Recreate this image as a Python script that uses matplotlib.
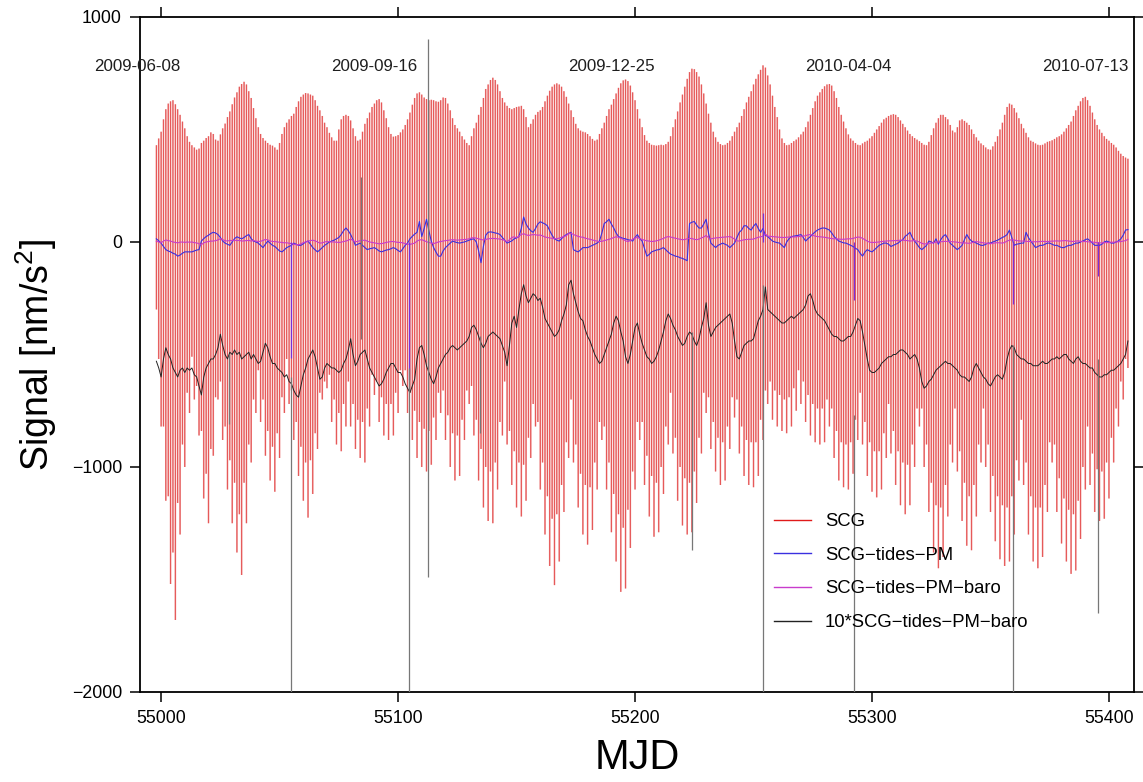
import numpy as np
import matplotlib
matplotlib.use("Agg")
import matplotlib.pyplot as plt
from matplotlib.lines import Line2D

# ---------------------------------------------------------------------------
# Daily series, first day MJD 54998
# ---------------------------------------------------------------------------
mjd_start = 54998

# SCG daily maximum [nm/s^2]
scg_high = [
    430, 460, 490, 545, 590, 615, 625, 630, 612, 590,
    565, 535, 505, 470, 445, 430, 420, 410, 415, 440,
    450, 462, 470, 487, 480, 455, 450, 478, 505, 526,
    555, 580, 612, 642, 665, 690, 702, 712, 700, 670,
    640, 595, 550, 510, 480, 462, 450, 440, 432, 428,
    420, 410, 440, 480, 510, 530, 545, 560, 570, 600,
    625, 645, 655, 662, 660, 655, 650, 630, 605, 585,
    560, 530, 510, 485, 465, 450, 450, 500, 545, 560,
    565, 560, 540, 505, 470, 450, 455, 490, 525, 550,
    575, 600, 615, 630, 635, 620, 585, 550, 510, 480,
    468, 470, 475, 487, 500, 520, 545, 575, 610, 640,
    660, 665, 655, 642, 635, 630, 632, 630, 625, 623,
    630, 642, 640, 615, 585, 550, 520, 505, 490, 470,
    455, 440, 430, 470, 505, 530, 565, 600, 640, 680,
    700, 720, 730, 720, 700, 670, 640, 620, 605, 595,
    590, 595, 600, 602, 605, 590, 555, 510, 525, 545,
    565, 578, 585, 600, 625, 650, 672, 690, 700, 705,
    700, 690, 670, 645, 615, 585, 555, 525, 505, 495,
    490, 487, 480, 470, 458, 450, 455, 480, 505, 530,
    560, 590, 610, 635, 660, 685, 705, 718, 722, 715,
    695, 665, 630, 590, 548, 510, 475, 450, 440, 432,
    430, 428, 430, 432, 430, 435, 445, 470, 510, 545,
    580, 620, 655, 690, 725, 755, 770, 768, 755, 735,
    700, 660, 615, 570, 530, 490, 465, 445, 435, 430,
    432, 440, 450, 470, 490, 510, 530, 560, 590, 620,
    645, 670, 700, 725, 745, 765, 785, 775, 740, 700,
    650, 600, 555, 500, 460, 440, 430, 432, 440, 448,
    455, 465, 478, 490, 510, 535, 565, 595, 625, 650,
    665, 680, 692, 700, 702, 695, 670, 640, 600, 565,
    535, 505, 478, 460, 450, 440, 432, 430, 438, 445,
    450, 460, 470, 485, 500, 515, 530, 545, 552, 560,
    565, 568, 565, 555, 540, 525, 510, 495, 480, 470,
    462, 455, 448, 440, 432, 430, 445, 475, 505, 530,
    550, 565, 565, 555, 545, 520, 495, 487, 510, 540,
    545, 538, 530, 520, 500, 480, 465, 450, 438, 430,
    420, 412, 410, 425, 445, 470, 500, 530, 565, 600,
    615, 610, 595, 575, 550, 525, 505, 485, 465, 450,
    445, 438, 432, 430, 432, 438, 445, 448, 452, 458,
    465, 470, 478, 490, 505, 520, 535, 560, 585, 605,
    625, 640, 645, 630, 605, 575, 545, 520, 500, 485,
    470, 458, 450, 440, 432, 420, 405, 392, 382, 375,
    370,
]

# SCG daily minimum [nm/s^2]
scg_low = [
    -300, -520, -820, -820, -1150, -1130, -1520, -1380, -1680, -1160,
    -1300, -900, -1000, -670, -760, -510, -700, -640, -860, -840,
    -1140, -1030, -1250, -920, -950, -690, -700, -620, -880, -820,
    -1100, -970, -1250, -1070, -1380, -1210, -1480, -1070, -1250, -900,
    -980, -700, -760, -570, -800, -700, -950, -840, -1060, -910,
    -1110, -850, -960, -690, -760, -520, -720, -660, -880, -800,
    -1040, -910, -1150, -980, -1225, -970, -1120, -850, -920, -670,
    -700, -620, -650, -590, -800, -700, -900, -760, -930, -720,
    -820, -620, -820, -720, -920, -790, -960, -800, -980, -740,
    -820, -590, -680, -620, -800, -690, -860, -720, -880, -720,
    -860, -670, -760, -570, -640, -570, -760, -670, -880, -750,
    -960, -800, -1000, -830, -1020, -840, -990, -780, -880, -670,
    -760, -660, -880, -770, -1000, -850, -1060, -860, -1040, -790,
    -880, -660, -720, -640, -860, -790, -1060, -920, -1180, -1000,
    -1240, -1020, -1250, -980, -1100, -800, -860, -620, -900, -840,
    -1080, -930, -1180, -980, -1220, -990, -1150, -870, -960, -720,
    -820, -800, -1100, -980, -1300, -1130, -1440, -1230, -1525, -1210,
    -1420, -1080, -1200, -890, -960, -700, -980, -900, -1180, -1030,
    -1300, -1080, -1345, -1090, -1280, -980, -1100, -800, -880, -820,
    -1100, -980, -1290, -1120, -1420, -1210, -1555, -1270, -1540, -1190,
    -1360, -1020, -1100, -800, -880, -800, -1080, -950, -1220, -1040,
    -1310, -1070, -1290, -1000, -1120, -820, -900, -670, -940, -870,
    -1150, -1000, -1260, -1050, -1300, -1070, -1290, -1020, -1160, -870,
    -940, -670, -760, -690, -920, -800, -1020, -870, -1080, -890,
    -1060, -820, -920, -690, -780, -700, -940, -820, -1040, -880,
    -1080, -890, -1090, -890, -1040, -790, -880, -660, -720, -620,
    -790, -660, -820, -680, -840, -700, -850, -690, -820, -650,
    -750, -570, -720, -620, -800, -680, -860, -720, -890, -740,
    -900, -740, -890, -700, -820, -740, -960, -840, -1060, -890,
    -1090, -900, -1100, -890, -1030, -790, -880, -670, -900, -800,
    -1040, -890, -1110, -930, -1135, -930, -1100, -850, -960, -720,
    -940, -840, -1080, -930, -1170, -980, -1210, -990, -1170, -900,
    -1000, -740, -820, -740, -1000, -900, -1200, -1070, -1380, -1170,
    -1450, -1180, -1400, -1080, -1220, -900, -980, -740, -1020, -930,
    -1240, -1070, -1350, -1130, -1370, -1080, -1220, -900, -980, -740,
    -1000, -900, -1200, -1040, -1330, -1130, -1410, -1170, -1440, -1180,
    -1420, -1130, -1300, -970, -1060, -790, -1080, -980, -1300, -1130,
    -1420, -1180, -1450, -1180, -1400, -1080, -1200, -890, -980, -900,
    -1200, -1050, -1340, -1140, -1420, -1190, -1475, -1210, -1460, -1150,
    -1320, -1000, -1100, -820, -1080, -940, -1200, -1010, -1240, -1020,
    -1230, -980, -1140, -870, -980, -740, -820, -620, -700, -520,
    -560,
]

# SCG - tides - polar motion, daily [nm/s^2]
scg_tides_pm = [
    14, 5, -5, -20, -34, -40, -44, -50, -54, -63,
    -58, -50, -44, -44, -44, -44, -40, -36, -34, 4,
    15, 24, 30, 38, 43, 40, 33, 20, 4, -5,
    -10, -15, 0, 15, 23, 18, 14, 20, 28, 33,
    15, 4, 0, -5, -15, -25, -10, 4, -5, -15,
    -20, -30, -40, -44, -35, -25, -20, -15, -5, -10,
    -15, -15, -8, 0, 4, -10, -25, -35, -44, -35,
    -25, -15, -8, 0, 4, 8, 14, 20, 33, 50,
    62, 50, 33, 10, -15, -10, -5, -15, -25, -34,
    -30, -28, -25, -32, -40, -44, -40, -36, -34, -30,
    -25, -30, -38, -44, -30, -15, -5, 14, 25, 35,
    43, 91, 24, 60, 101, 50, 4, -25, -45, -63,
    -63, -40, -25, -15, -5, 4, 0, -3, -5, -2,
    0, 4, 8, 12, 14, 0, -40, -92, -20, 30,
    43, 45, 43, 40, 38, 33, 20, 8, -5, 0,
    5, 14, 18, 24, 60, 111, 80, 62, 50, 43,
    60, 80, 90, 85, 80, 72, 50, 30, 14, 8,
    4, 15, 25, 33, 38, 43, -34, -40, -44, -35,
    -25, -25, -25, -20, -15, -10, -5, 4, 40, 82,
    90, 101, 80, 62, 40, 24, 20, 16, 14, 10,
    8, 4, 20, 33, 15, 4, -30, -63, -55, -44,
    -40, -36, -34, -30, -25, -35, -45, -54, -58, -63,
    -65, -70, -73, -78, -83, 82, 88, 91, 75, 62,
    62, 80, 101, 40, -5, -15, -25, -15, -10, -5,
    -10, -15, -25, -15, -5, 20, 43, 53, 72, 72,
    60, 53, 70, 82, 60, 43, 60, 30, 24, 14,
    4, 0, -3, -5, -15, -25, 0, 15, 24, 26,
    28, 30, 33, 20, 4, 15, 24, 35, 45, 53,
    58, 62, 62, 58, 53, 40, 24, 14, 4, 0,
    -4, -5, -10, -15, -20, -28, -34, -50, -63, -45,
    -34, -40, -44, -35, -25, -15, -10, -5, -5, -10,
    -20, -15, -10, -5, 4, 10, 25, 33, 43, 20,
    4, -10, -25, -34, -25, -15, 4, 0, -5, 14,
    -10, 10, 25, 33, 15, -5, -15, -25, -34, -25,
    -15, 10, 33, 15, 4, 0, -5, -10, -15, -15,
    -10, -5, -5, 0, 4, 8, 14, 20, 25, 33,
    53, 20, -15, -10, -8, -5, -5, 43, 20, 4,
    -10, -25, -20, -15, -15, -10, -5, -5, -10, -15,
    -15, -20, -25, -25, -20, -15, -15, -10, -5, -5,
    0, 4, 10, 14, 5, -5, -15, -15, -15, -10,
    0, 4, 0, -5, -5, 0, 5, 14, 30, 53,
    55,
]

# SCG - tides - polar motion - barometric effect, daily [nm/s^2]
scg_resid_baro = [
    3, 0, -4, 4, 9, 6, 4, 0, -2, -4,
    -1, 0, -2, 0, -1, 0, -3, -4, -8, -12,
    -4, 0, 2, 4, 4, 6, 9, 15, 10, 6,
    4, 7, 6, 8, 6, 7, 4, 5, 6, 7,
    4, 6, 4, 2, 3, 7, 11, 9, 5, 2,
    2, 0, -1, -2, -4, -3, -6, -7, -10, -12,
    -13, -8, -3, 0, 4, 6, 8, 5, 0, -5,
    -4, 0, 2, 1, 0, 0, -1, -2, -1, 2,
    4, 8, 13, 6, 1, 3, 6, 7, 8, 4,
    0, -2, -4, -6, -8, -7, -5, -2, 0, 2,
    2, 0, -2, -2, -4, -7, -9, -11, -8, -5,
    4, 9, 10, 6, 1, -2, -5, -7, -4, 0,
    2, 4, 6, 7, 9, 10, 9, 8, 9, 10,
    11, 12, 14, 18, 19, 17, 14, 11, 9, 11,
    14, 15, 16, 15, 14, 13, 10, 7, 1, 10,
    20, 23, 18, 26, 33, 37, 32, 29, 31, 33,
    32, 30, 31, 27, 22, 20, 18, 16, 14, 15,
    17, 21, 24, 28, 37, 39, 33, 29, 25, 22,
    21, 17, 14, 12, 9, 6, 4, 2, 3, 6,
    9, 12, 15, 20, 23, 21, 16, 12, 5, 2,
    6, 12, 18, 20, 15, 11, 8, 5, 4, 2,
    3, 5, 8, 12, 16, 21, 24, 22, 19, 17,
    14, 12, 10, 11, 14, 16, 15, 12, 10, 13,
    18, 22, 29, 19, 14, 16, 18, 19, 20, 21,
    22, 23, 24, 20, 12, 5, 4, 7, 10, 11,
    12, 12, 13, 17, 21, 23, 26, 36, 26, 25,
    24, 23, 22, 21, 20, 20, 21, 22, 23, 22,
    23, 24, 25, 26, 28, 32, 33, 30, 26, 24,
    23, 22, 21, 19, 17, 15, 14, 14, 13, 12,
    12, 13, 14, 14, 16, 19, 22, 21, 16, 10,
    4, -1, -2, -2, -1, 0, 2, 3, 4, 5,
    5, 6, 6, 7, 8, 8, 7, 6, 4, 5,
    6, 4, 0, -6, -9, -8, -6, -5, -3, -1,
    0, 1, 2, 3, 2, 2, 1, 0, -1, -3,
    -4, -4, -5, -6, -4, 0, 2, 0, -2, -4,
    -5, -7, -8, -6, -4, -3, -4, -5, -2, 4,
    8, 10, 9, 6, 5, 4, 4, 3, 2, 2,
    1, 1, 1, 2, 3, 2, 2, 3, 4, 4,
    5, 4, 5, 6, 6, 4, 3, 2, 4, 5,
    3, 2, 2, 1, 0, 0, -2, -3, -4, -4,
    -3, -3, -2, -1, -1, 0, 1, 2, 4, 6,
    12,
]

# Short instrumental steps / spikes in the residual [nm/s^2]
spike_mjd = [55028.8, 55054.7, 55084.2, 55104.4, 55112.8, 55134.7,
             55223.9, 55254.0, 55292.3, 55359.3, 55395.3]
spike_resid_lo = [-25, -204, 13, -204, -93, -29, -81, -204, -204, -204, -109]
spike_resid_hi = [6, -4, 85, 0, 146, 14, 16, 37, -21, 10, 4]
spike_pm_mjd = [55054.7, 55104.4, 55254.0, 55292.3, 55359.3, 55395.3]
spike_pm_val = [-517, -614, 130, -256, -276, -150]

# Calendar dates every 100 days
date_mjd = [54990, 55090, 55190, 55290, 55390]
date_text = ["2009-06-08", "2009-09-16", "2009-12-25", "2010-04-04", "2010-07-13"]

residual_scale = 10
residual_shift = -560

# ---------------------------------------------------------------------------
plt.rcParams["font.family"] = ["Liberation Sans", "DejaVu Sans"]
plt.rcParams["mathtext.fontset"] = "custom"
plt.rcParams["mathtext.rm"] = "Liberation Sans"
plt.rcParams["mathtext.it"] = "Liberation Sans:italic"

n = min(len(scg_high), len(scg_low), len(scg_tides_pm), len(scg_resid_baro))
mjd = mjd_start + np.arange(n)
high = np.asarray(scg_high[:n], float)
low = np.asarray(scg_low[:n], float)
pm = np.asarray(scg_tides_pm[:n], float)
resid = np.asarray(scg_resid_baro[:n], float)

fig = plt.figure(figsize=(11.43, 7.82), dpi=100)
ax = fig.add_axes([0.1225, 0.1151, 0.8695, 0.8632])

red = "#e01a1a"
blue = "#3a30e0"
magenta = "#c83ccc"
dark = "#222222"

# SCG: one stroke per day from daily minimum to daily maximum,
# a soft pink body with a thinner saturated core
body = ax.vlines(mjd, low, high, colors="#ef9696", linewidth=1.2, zorder=1)
body.set_snap(False)
core = ax.vlines(mjd, low, high, colors="#dc1010", linewidth=0.5,
                 alpha=0.65, zorder=1.5)
core.set_snap(False)

ax.plot(mjd, pm, color=blue, lw=0.8, zorder=3)
ax.plot(mjd, resid, color=magenta, lw=0.8, zorder=4)
ax.vlines(spike_pm_mjd, 0, spike_pm_val, colors="#7a30d8", lw=0.9, zorder=4)

ax.plot(mjd, residual_scale * resid + residual_shift, color=dark, lw=0.7, zorder=5)
ax.vlines(spike_mjd,
          residual_scale * np.asarray(spike_resid_lo) + residual_shift,
          residual_scale * np.asarray(spike_resid_hi) + residual_shift,
          colors="#777777", lw=0.9, zorder=5)

for m, t in zip(date_mjd, date_text):
    ax.text(m, 780, t, ha="center", va="center", fontsize=12.2,
            color="#1e1e1e", zorder=6, clip_on=False)

ax.set_xlim(54991.1, 55410.5)
ax.set_ylim(-2000, 1000)
ax.set_xticks([55000, 55100, 55200, 55300, 55400])
ax.set_yticks([-2000, -1000, 0, 1000])
ax.tick_params(direction="out", length=7, width=1.1, top=True, right=True,
               labelsize=12.8, pad=6)
for s in ax.spines.values():
    s.set_linewidth(1.3)

ax.set_xlabel("MJD", fontsize=30, labelpad=8)
ax.set_ylabel(r"Signal [nm/s$^2$]", fontsize=27, labelpad=9)

handles = [
    Line2D([], [], color=red, lw=1.0),
    Line2D([], [], color=blue, lw=1.0),
    Line2D([], [], color=magenta, lw=1.0),
    Line2D([], [], color=dark, lw=1.0),
]
labels = ["SCG", "SCG\u2212tides\u2212PM", "SCG\u2212tides\u2212PM\u2212baro",
          "10*SCG\u2212tides\u2212PM\u2212baro"]
ax.legend(handles, labels, loc="upper left", bbox_to_anchor=(0.638, 0.265),
          frameon=False, handlelength=2.0, handletextpad=0.75,
          labelspacing=0.9, borderpad=0, borderaxespad=0,
          prop={"size": 13.3})

fig.savefig("out.png", dpi=100)
